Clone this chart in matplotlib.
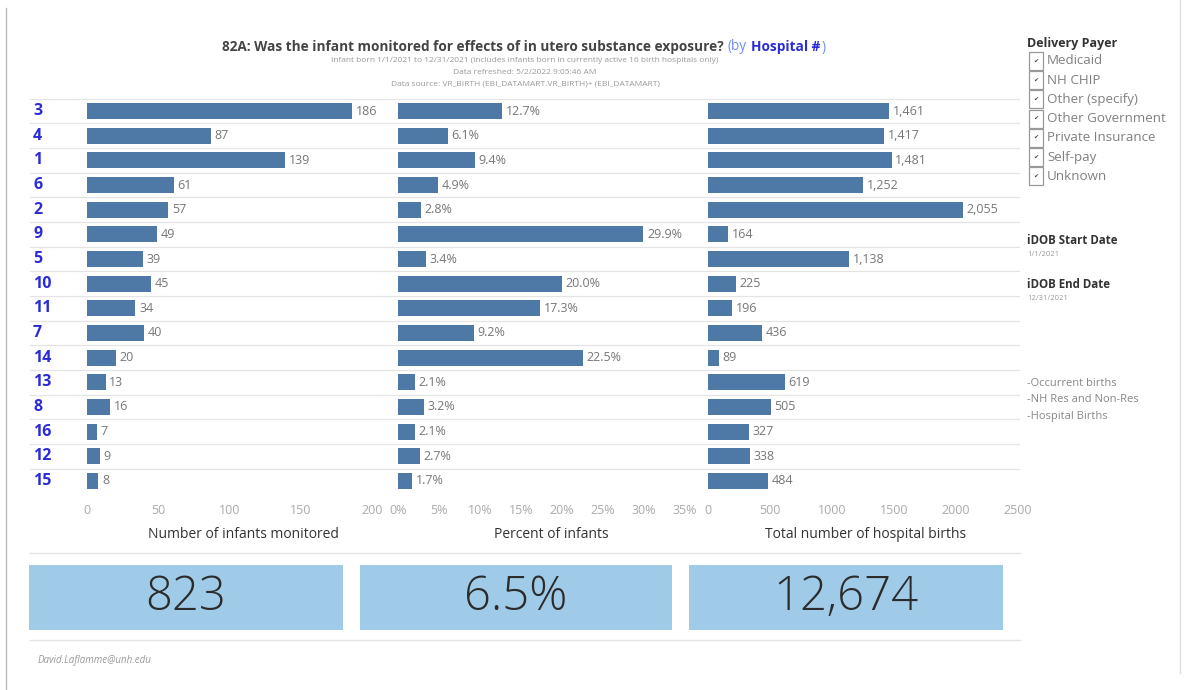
import matplotlib
matplotlib.use('Agg')
import matplotlib.pyplot as plt
from matplotlib.patches import Rectangle

plt.rcParams['font.family'] = ['Open Sans', 'DejaVu Sans']

# data, top to bottom as shown
hospitals = ['3', '4', '1', '6', '2', '9', '5', '10', '11', '7', '14', '13', '8', '16', '12', '15']
monitored = [186, 87, 139, 61, 57, 49, 39, 45, 34, 40, 20, 13, 16, 7, 9, 8]
pct_monitored = [12.7, 6.1, 9.4, 4.9, 2.8, 29.9, 3.4, 20.0, 17.3, 9.2, 22.5, 2.1, 3.2, 2.1, 2.7, 1.7]
total_births = [1461, 1417, 1481, 1252, 2055, 164, 1138, 225, 196, 436, 89, 619, 505, 327, 338, 484]

kpi_values = ['823', '6.5%', '12,674']
axis_titles = ['Number of infants monitored', 'Percent of infants', 'Total number of hospital births']
payers = ['Medicaid', 'NH CHIP', 'Other (specify)', 'Other Government',
          'Private Insurance', 'Self-pay', 'Unknown']

W, H = 1190, 690
BAR = '#4e79a7'
GRID = '#e4e4e4'


def fx(px):
    return px / W


def fy(py):
    return 1 - py / H


fig = plt.figure(figsize=(W / 100, H / 100), dpi=100)
renderer = fig.canvas.get_renderer()

# background canvas in pixel units for the frame, texts and kpi boxes
bg = fig.add_axes([0, 0, 1, 1])
bg.set_xlim(0, W)
bg.set_ylim(H, 0)
bg.axis('off')

top, bottom = 98.7, 493.3
n = len(hospitals)

# row separator lines + hospital labels
grid = fig.add_axes([fx(30), fy(bottom), fx(1020 - 30), (bottom - top) / H])
grid.set_xlim(30, 1020)
grid.set_ylim(n - 0.5, -0.5)
grid.axis('off')
for k in range(n + 1):
    grid.axhline(k - 0.5, color=GRID, lw=0.9)
for i, h in enumerate(hospitals):
    grid.text(33, i, h, color='#2b2bd9', fontsize=11.5, fontweight='bold',
              va='center', ha='left')

panels = [
    (87, 395, 216, monitored, lambda v: f'{v}', [0, 50, 100, 150, 200],
     lambda t: f'{t}'),
    (398, 700, 36.8, pct_monitored, lambda v: f'{v:.1f}%', [0, 5, 10, 15, 20, 25, 30, 35],
     lambda t: f'{t}%'),
    (708, 1020, 2516, total_births, lambda v: f'{v:,}', [0, 500, 1000, 1500, 2000, 2500],
     lambda t: f'{t}'),
]

for (x0, x1, xmax, vals, fmt, ticks, tfmt), title in zip(panels, axis_titles):
    ax = fig.add_axes([fx(x0), fy(bottom), fx(x1 - x0), (bottom - top) / H])
    ax.patch.set_alpha(0)
    ax.barh(range(n), vals, height=0.66, color=BAR)
    for i, v in enumerate(vals):
        ax.text(v + xmax * 0.012, i, fmt(v), va='center', ha='left',
                fontsize=9, color='#777777')
    ax.set_xlim(0, xmax)
    ax.set_ylim(n - 0.5, -0.5)
    ax.set_yticks([])
    ax.set_xticks(ticks)
    ax.set_xticklabels([tfmt(t) for t in ticks])
    ax.tick_params(axis='x', length=0, pad=8, labelsize=9, labelcolor='#aaaaaa')
    for s in ax.spines.values():
        s.set_visible(False)
    bg.text((x0 + x1) / 2 + 2, 534, title, ha='center', va='center',
            fontsize=10, color='#333333')

# title block, pieces laid out one after another
title_parts = [
    ('82A: Was the infant monitored for effects of in utero substance exposure?', '#444444', 'bold'),
    ('(by', '#6d8fe8', 'normal'),
    ('Hospital #', '#2b2bd9', 'bold'),
    (')', '#6d8fe8', 'normal'),
]
x = 222
for j, (s, c, w) in enumerate(title_parts):
    t = bg.text(x, 47, s, fontsize=9.8, fontweight=w, color=c, va='center', ha='left')
    bb = t.get_window_extent(renderer)
    x += bb.width + (4 if j < 2 else 1)

sub = ['Infant born 1/1/2021 to 12/31/2021 (includes infants born in currently active 16 birth hospitals only)',
       'Data refreshed: 5/2/2022 9:05:46 AM',
       'Data source: VR_BIRTH (EBI_DATAMART.VR_BIRTH)+ (EBI_DATAMART)']
for yy, s in zip([61, 72, 84], sub):
    bg.text(525, yy, s, fontsize=6, color='#999999', ha='center', va='center')

# kpi band
bg.plot([30, 1020], [553, 553], color=GRID, lw=1)
bg.plot([30, 1020], [640, 640], color=GRID, lw=1)
for (bx0, bx1), val in zip([(29, 343), (360, 672), (689, 1003)], kpi_values):
    bg.add_patch(Rectangle((bx0, 565), bx1 - bx0, 65, color='#a0cbe8', lw=0))
    bg.text((bx0 + bx1) / 2, 598, val, fontsize=34, fontweight='light',
            color='#2b2b2b', ha='center', va='center')

bg.text(38, 661, 'David.Laflamme@unh.edu', fontsize=7, style='italic',
        color='#999999', va='center')

# frame
bg.plot([6, 6], [8, 690], color='#bbbbbb', lw=1)
bg.plot([1180, 1180], [0, 673], color='#dddddd', lw=1)

# filter panel on the right
bg.text(1027, 43, 'Delivery Payer', fontsize=9, fontweight='bold',
        color='#333333', va='center')
for i, p in enumerate(payers):
    yy = 61 + i * 19.2
    bg.add_patch(Rectangle((1029, yy - 9), 14, 18, fill=False, ec='#999999', lw=0.9))
    bg.text(1036, yy, '\u2714', fontsize=4.5, color='#444444', ha='center', va='center',
            family='DejaVu Sans')
    bg.text(1047, yy, p, fontsize=9.6, color='#808080', va='center')

bg.text(1027, 241, 'iDOB Start Date', fontsize=8.3, fontweight='bold', color='#333333', va='center')
bg.text(1027, 255, '1/1/2021', fontsize=5.5, color='#999999', va='center')
bg.text(1027, 285, 'iDOB End Date', fontsize=8.3, fontweight='bold', color='#333333', va='center')
bg.text(1027, 298, '12/31/2021', fontsize=5.5, color='#999999', va='center')
for yy, s in zip([384, 400, 416], ['-Occurrent births', '-NH Res and Non-Res', '-Hospital Births']):
    bg.text(1027, yy, s, fontsize=8, color='#888888', va='center')

fig.savefig('out.png', dpi=100)
